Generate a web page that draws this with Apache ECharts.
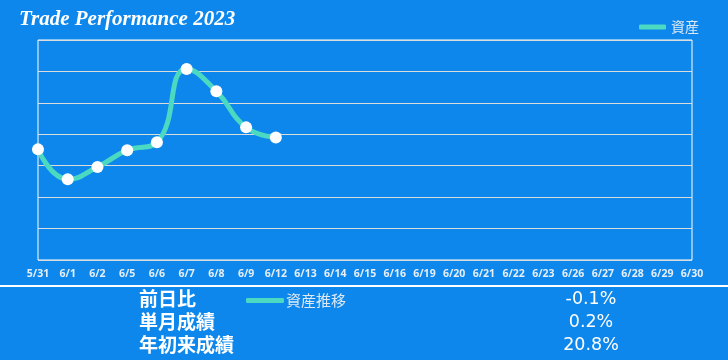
<!DOCTYPE html>
<html><head><meta charset="utf-8">
<script src="https://cdn.jsdelivr.net/npm/echarts@6/dist/echarts.min.js"></script>
<style>html,body{margin:0;padding:0;background:#0d87ec}#c{width:728px;height:360px}</style>
</head><body><div id="c"></div>
<script>
const categories = ['5/31','6/1','6/2','6/5','6/6','6/7','6/8','6/9','6/12','6/13','6/14','6/15','6/16','6/19','6/20','6/21','6/22','6/23','6/26','6/27','6/28','6/29','6/30'];
const assetValues = [3.52, 2.57, 2.96, 3.49, 3.75, 6.08, 5.37, 4.22, 3.90];
const statLabels = ['前日比', '単月成績', '年初来成績'];
const statValues = ['-0.1%', '0.2%', '20.8%'];

const chart = echarts.init(document.getElementById('c'));
const cjk = '"Noto Sans CJK JP", "Noto Sans", sans-serif';
const teal = '#4bd9c2';
const graphics = [
  {type:'line', shape:{x1:0,y1:286,x2:728,y2:286}, style:{stroke:'#ffffff', lineWidth:2}}
];
statLabels.forEach((t,i)=>{
  graphics.push({type:'text', x:139, y:299+i*23, style:{text:t, fill:'#ffffff', font:'bold 19px '+cjk, verticalAlign:'middle'}});
  graphics.push({type:'text', x:591, y:299+i*23, style:{text:statValues[i], fill:'#ffffff', font:'17.5px "DejaVu Sans", sans-serif', align:'center', verticalAlign:'middle'}});
});
chart.setOption({
  backgroundColor:'#0d87ec',
  animation:false,
  title:{text:'Trade Performance 2023', left:14, top:4,
    textStyle:{color:'#ffffff', fontFamily:'Liberation Serif', fontStyle:'italic', fontWeight:'bold', fontSize:21}},
  legend:[
    {data:[{name:'資産', itemStyle:{color:teal}}], right:24, top:15, itemWidth:27, itemHeight:5, icon:'roundRect',
      textStyle:{color:'#dde8f5', fontSize:14, fontFamily:cjk}},
    {data:[{name:'資産推移', itemStyle:{color:teal}}], left:241, top:288, itemWidth:38, itemHeight:5, icon:'roundRect',
      textStyle:{color:'#dde8f5', fontSize:15, fontFamily:cjk, padding:[0,0,0,-3]}}
  ],
  grid:{left:38, right:36, top:40, bottom:100, show:true, borderColor:'#ffffff', borderWidth:1},
  xAxis:{type:'category', data:categories, boundaryGap:false,
    axisLine:{show:false}, axisTick:{show:false},
    axisLabel:{color:'#e6eef8', fontSize:10.5, fontWeight:'bold', margin:9, interval:0, fontFamily:'"Open Sans", sans-serif'},
    splitLine:{show:false}},
  yAxis:{type:'value', min:0, max:7, interval:1, axisLabel:{show:false},
    axisLine:{show:false}, axisTick:{show:false},
    splitLine:{lineStyle:{color:'#dcdcdc', width:1}}},
  series:[
    {name:'資産', type:'line', data:assetValues, smooth:true, symbol:'circle', symbolSize:12,
      lineStyle:{color:teal, width:5}, itemStyle:{color:'#ffffff', borderWidth:0}},
    {name:'資産推移', type:'line', data:[], lineStyle:{color:teal, width:5}, itemStyle:{color:teal}}
  ],
  graphic:graphics
});
</script></body></html>
